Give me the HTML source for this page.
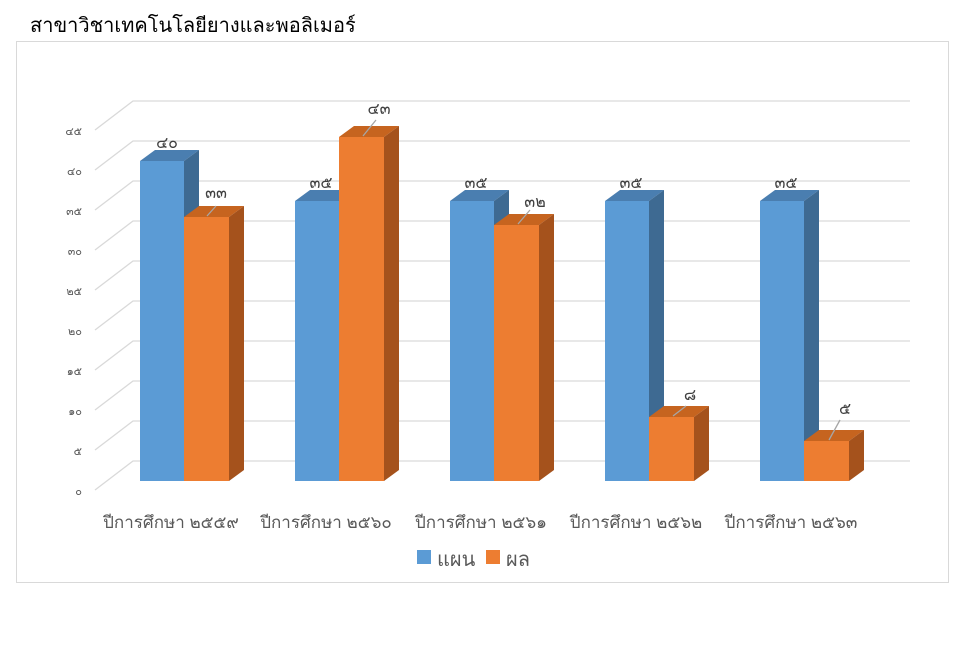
<!DOCTYPE html>
<html><head><meta charset="utf-8"><style>
body{margin:0;background:#fff;}
svg{display:block;font-family:"Liberation Sans","DejaVu Sans",sans-serif;}
</style></head><body>
<svg width="969" height="659" viewBox="0 0 969 659" xmlns="http://www.w3.org/2000/svg">
<rect width="969" height="659" fill="#fff"/>
<text x="30" y="32" font-size="20" fill="#000">สาขาวิชาเทคโนโลยียางและพอลิเมอร์</text>
<rect x="16.5" y="41.5" width="932" height="541" fill="none" stroke="#d9d9d9"/>
<g stroke="#d9d9d9" stroke-width="1.3" fill="none">
<path d="M95 490L133 461H910M95 450L133 421H910M95 410L133 381H910M95 370L133 341H910M95 330L133 301H910M95 290L133 261H910M95 250L133 221H910M95 210L133 181H910M95 170L133 141H910M95 130L133 101H910"/>
</g>
<g font-size="11" fill="#595959" text-anchor="end">
<text x="82" y="495">๐</text><text x="82" y="455">๕</text><text x="82" y="415">๑๐</text><text x="82" y="375">๑๕</text><text x="82" y="335">๒๐</text><text x="82" y="295">๒๕</text><text x="82" y="255">๓๐</text><text x="82" y="215">๓๕</text><text x="82" y="175">๔๐</text><text x="82" y="135">๔๕</text>
</g>
<!-- group 1 -->
<g>
<rect x="140" y="161" width="44" height="320" fill="#5b9bd5"/>
<polygon points="140,161 155,150 199,150 184,161" fill="#4a7eb0"/>
<polygon points="184,161 199,150 199,470 184,481" fill="#3e6a92"/>
<rect x="184" y="217" width="45" height="264" fill="#ed7d31"/>
<polygon points="184,217 199,206 244,206 229,217" fill="#c6641f"/>
<polygon points="229,217 244,206 244,470 229,481" fill="#a5521c"/>
</g>
<g>
<rect x="295" y="201" width="44" height="280" fill="#5b9bd5"/>
<polygon points="295,201 310,190 354,190 339,201" fill="#4a7eb0"/>
<polygon points="339,201 354,190 354,470 339,481" fill="#3e6a92"/>
<rect x="339" y="137" width="45" height="344" fill="#ed7d31"/>
<polygon points="339,137 354,126 399,126 384,137" fill="#c6641f"/>
<polygon points="384,137 399,126 399,470 384,481" fill="#a5521c"/>
</g>
<g>
<rect x="450" y="201" width="44" height="280" fill="#5b9bd5"/>
<polygon points="450,201 465,190 509,190 494,201" fill="#4a7eb0"/>
<polygon points="494,201 509,190 509,470 494,481" fill="#3e6a92"/>
<rect x="494" y="225" width="45" height="256" fill="#ed7d31"/>
<polygon points="494,225 509,214 554,214 539,225" fill="#c6641f"/>
<polygon points="539,225 554,214 554,470 539,481" fill="#a5521c"/>
</g>
<g>
<rect x="605" y="201" width="44" height="280" fill="#5b9bd5"/>
<polygon points="605,201 620,190 664,190 649,201" fill="#4a7eb0"/>
<polygon points="649,201 664,190 664,470 649,481" fill="#3e6a92"/>
<rect x="649" y="417" width="45" height="64" fill="#ed7d31"/>
<polygon points="649,417 664,406 709,406 694,417" fill="#c6641f"/>
<polygon points="694,417 709,406 709,470 694,481" fill="#a5521c"/>
</g>
<g>
<rect x="760" y="201" width="44" height="280" fill="#5b9bd5"/>
<polygon points="760,201 775,190 819,190 804,201" fill="#4a7eb0"/>
<polygon points="804,201 819,190 819,470 804,481" fill="#3e6a92"/>
<rect x="804" y="441" width="45" height="40" fill="#ed7d31"/>
<polygon points="804,441 819,430 864,430 849,441" fill="#c6641f"/>
<polygon points="849,441 864,430 864,470 849,481" fill="#a5521c"/>
</g>
<!-- leader lines -->
<g stroke="#a6a6a6" stroke-width="1.3">
<path d="M207 216L216 206M363 136L376 120M518 224L530 210M673 416L686 406M829 440L840 420"/>
</g>
<g font-size="16" fill="#404040" text-anchor="middle">
<text x="167" y="148">๔๐</text>
<text x="216" y="198">๓๓</text>
<text x="321" y="188">๓๕</text>
<text x="379" y="114">๔๓</text>
<text x="476" y="188">๓๕</text>
<text x="535" y="207">๓๒</text>
<text x="631" y="188">๓๕</text>
<text x="690" y="400">๘</text>
<text x="786" y="188">๓๕</text>
<text x="845" y="414">๕</text>
</g>
<g font-size="17" fill="#595959" text-anchor="middle">
<text x="171" y="528">ปีการศึกษา ๒๕๕๙</text>
<text x="326" y="528">ปีการศึกษา ๒๕๖๐</text>
<text x="481" y="528">ปีการศึกษา ๒๕๖๑</text>
<text x="636" y="528">ปีการศึกษา ๒๕๖๒</text>
<text x="791" y="528">ปีการศึกษา ๒๕๖๓</text>
</g>
<rect x="417" y="550" width="14" height="14" fill="#5b9bd5"/>
<text x="437" y="566" font-size="20" fill="#595959">แผน</text>
<rect x="486" y="550" width="14" height="14" fill="#ed7d31"/>
<text x="506" y="566" font-size="20" fill="#595959">ผล</text>
</svg>
</body></html>
